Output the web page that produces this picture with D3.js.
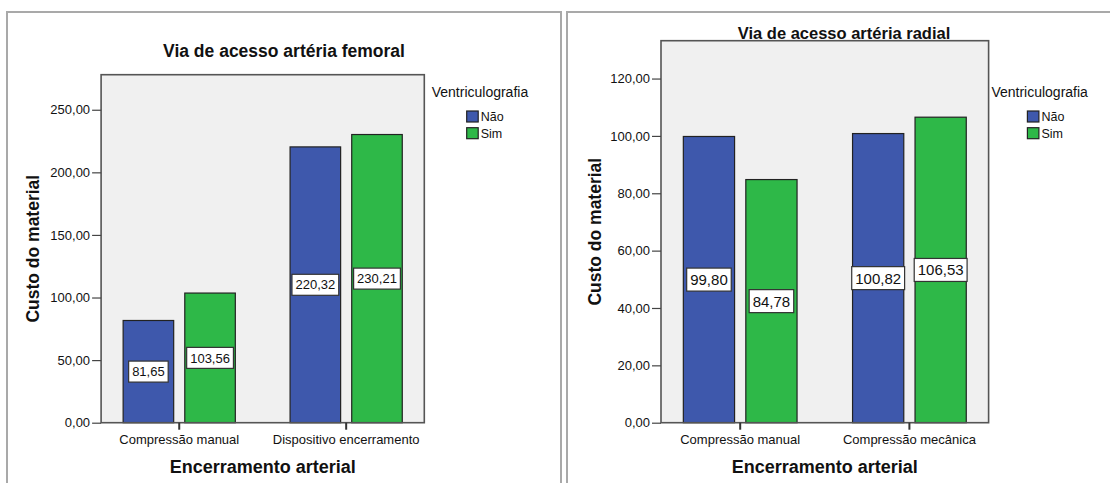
<!DOCTYPE html>
<html>
<head>
<meta charset="utf-8">
<script src="https://cdn.jsdelivr.net/npm/d3@7"></script>
<style>
  body { margin: 0; background: #fff; }
  text { font-family: "Liberation Sans", Arial, sans-serif; fill: #111; }
</style>
</head>
<body>
<div id="app"></div>
<script>
// data
const groups = ['Não', 'Sim']
const groupColors = ['#3E58AC', '#2EB848']

const femoralCategories = ['Compressão manual', 'Dispositivo encerramento']
const femoralNao = [81.65, 220.32]
const femoralSim = [103.56, 230.21]
const femoralTicks = [0, 50, 100, 150, 200, 250]

const radialCategories = ['Compressão manual', 'Compressão mecânica']
const radialNao = [99.80, 100.82]
const radialSim = [84.78, 106.53]
const radialTicks = [0, 20, 40, 60, 80, 100, 120]

const width = 1110
const height = 483

const ptBR = d3.formatLocale({ decimal: ',', thousands: '.', grouping: [3], currency: ['R$', ''] })
const fmt = ptBR.format('.2f')

const svg = d3.select('#app')
  .append('svg')
  .attr('width', width)
  .attr('height', height)

svg.append('rect').attr('width', width).attr('height', height).attr('fill', '#fff')

// panel frames (gray, open at the bottom)
svg.append('path')
  .attr('d', 'M7,490 V12 H561 V490')
  .attr('fill', 'none').attr('stroke', '#a9a9a9').attr('stroke-width', 2)
svg.append('path')
  .attr('d', 'M567,490 V12 H1120')
  .attr('fill', 'none').attr('stroke', '#a9a9a9').attr('stroke-width', 2)

function drawPanel(p) {
  const g = svg.append('g')
  const bottom = 422.7

  const x0 = d3.scaleBand()
    .domain(p.categories)
    .range([p.left, p.right])
    .paddingInner(0.328)
    .paddingOuter(0.132)

  const x1 = d3.scaleBand()
    .domain(groups)
    .range([0, x0.bandwidth()])
    .paddingInner(0.18)

  const y = d3.scaleLinear()
    .domain([0, p.yMax])
    .range([bottom, p.top])

  g.append('rect')
    .attr('x', p.left).attr('y', p.top)
    .attr('width', p.right - p.left).attr('height', bottom - p.top)
    .attr('fill', '#f0f0f0')

  const rows = p.categories.map((c, i) => ({ cat: c, values: [p.nao[i], p.sim[i]] }))

  const cat = g.selectAll('g.cat')
    .data(rows)
    .enter().append('g')
    .attr('class', 'cat')
    .attr('transform', d => `translate(${x0(d.cat)},0)`)

  cat.selectAll('rect')
    .data(d => d.values.map((v, j) => ({ key: groups[j], v: v })))
    .enter().append('rect')
    .attr('x', d => x1(d.key))
    .attr('y', d => y(d.v))
    .attr('width', x1.bandwidth())
    .attr('height', d => bottom - y(d.v))
    .attr('fill', (d, j) => groupColors[j])
    .attr('stroke', '#222')
    .attr('stroke-width', 1.2)

  // value labels in white boxes at mid height
  const lab = cat.selectAll('g.lab')
    .data(d => d.values.map((v, j) => ({ key: groups[j], v: v })))
    .enter().append('g')
    .attr('class', 'lab')
    .attr('transform', d => `translate(${x1(d.key) + x1.bandwidth() / 2},${y(d.v / 2)})`)

  lab.append('rect')
  lab.append('text')
    .attr('text-anchor', 'middle')
    .attr('dy', '0.36em')
    .style('font-size', p.labelSize + 'px')
    .text(d => fmt(d.v))
  lab.each(function () {
    const w = d3.select(this).select('text').node().getComputedTextLength()
    d3.select(this).select('rect')
      .attr('x', -w / 2 - 3.5).attr('y', -p.labelBox / 2)
      .attr('width', w + 7).attr('height', p.labelBox)
      .attr('fill', '#fff').attr('stroke', '#333').attr('stroke-width', 1.2)
  })

  // plot frame
  g.append('rect')
    .attr('x', p.left).attr('y', p.top)
    .attr('width', p.right - p.left).attr('height', bottom - p.top)
    .attr('fill', 'none').attr('stroke', '#555').attr('stroke-width', 1.6)

  const yAxis = g.append('g')
    .attr('transform', `translate(${p.left},0)`)
    .call(d3.axisLeft(y).tickValues(p.ticks).tickSize(9).tickPadding(2).tickFormat(fmt))
  yAxis.select('.domain').remove()
  yAxis.selectAll('line').attr('stroke', '#444').attr('stroke-width', 1.2)
  yAxis.selectAll('text').style('font-size', '13px').attr('fill', '#111')

  const xAxis = g.append('g')
    .attr('transform', `translate(0,${bottom})`)
    .call(d3.axisBottom(x0).tickSize(7).tickPadding(5))
  xAxis.select('.domain').remove()
  xAxis.selectAll('line').attr('stroke', '#333').attr('stroke-width', 2)
  xAxis.selectAll('text').style('font-size', '13px').attr('fill', '#111')

  g.append('text')
    .attr('x', p.titleX).attr('y', p.titleY)
    .attr('text-anchor', 'middle')
    .style('font-size', p.titleSize + 'px')
    .style('font-weight', 'bold')
    .text(p.title)

  g.append('text')
    .attr('transform', `translate(${p.yTitleX},${(bottom + p.top) / 2}) rotate(-90)`)
    .attr('text-anchor', 'middle')
    .style('font-size', '17.5px')
    .style('font-weight', 'bold')
    .text('Custo do material')

  g.append('text')
    .attr('x', (p.left + p.right) / 2).attr('y', 472.5)
    .attr('text-anchor', 'middle')
    .style('font-size', '18px')
    .style('font-weight', 'bold')
    .text('Encerramento arterial')

  // legend
  const leg = g.append('g')
  leg.append('text')
    .attr('x', p.legendX).attr('y', 96.5)
    .style('font-size', '14px')
    .attr('fill', '#222')
    .text('Ventriculografia')
  const item = leg.selectAll('g.item')
    .data(groups)
    .enter().append('g')
    .attr('transform', (d, i) => `translate(${p.legendX + p.swatchOffset},${111 + i * 16.7})`)
  item.append('rect')
    .attr('width', 11.5).attr('height', 11)
    .attr('fill', (d, i) => groupColors[i])
    .attr('stroke', '#222').attr('stroke-width', 1.2)
  item.append('text')
    .attr('x', 14).attr('y', 10)
    .style('font-size', '12.5px')
    .text(d => d)
}

drawPanel({
  categories: femoralCategories, nao: femoralNao, sim: femoralSim, ticks: femoralTicks,
  yMax: 278, left: 101.1, right: 424.3, top: 74.7,
  title: 'Via de acesso artéria femoral', titleX: 284, titleY: 57, titleSize: 17.5,
  yTitleX: 39, legendX: 431.7, swatchOffset: 35, labelSize: 13, labelBox: 21
})

drawPanel({
  categories: radialCategories, nao: radialNao, sim: radialSim, ticks: radialTicks,
  yMax: 133.2, left: 661, right: 988.6, top: 40.7,
  title: 'Via de acesso artéria radial', titleX: 844, titleY: 38.5, titleSize: 16.5,
  yTitleX: 601, legendX: 991.4, swatchOffset: 36, labelSize: 15, labelBox: 23
})
</script>
</body>
</html>
